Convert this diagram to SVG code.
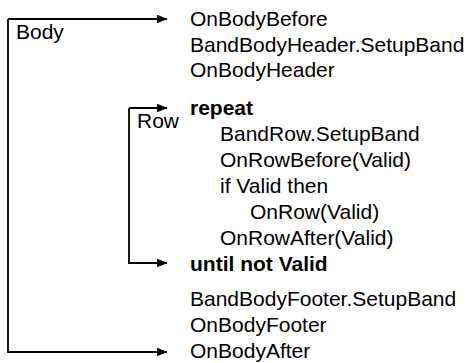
<svg xmlns="http://www.w3.org/2000/svg" width="471" height="363" viewBox="0 0 471 363">
<style>
text{font-family:"Liberation Sans",Arial,sans-serif;font-size:21px;fill:#000}
.b{font-weight:bold}
.c{fill:none;stroke:#000;stroke-width:1.8}
</style>
<defs>
<marker id="ah" markerWidth="11" markerHeight="9" refX="10.5" refY="4.5" orient="auto" markerUnits="userSpaceOnUse">
<path d="M0,0 L11,4.5 L0,9 Z" fill="#000"/>
</marker>
</defs>
<rect width="471" height="363" fill="#fff"/>
<g id="connectors">
<path class="c" d="M8,19 V352 H167" marker-end="url(#ah)"/>
<path class="c" d="M8,19 H167" marker-end="url(#ah)"/>
<path class="c" d="M129,108 V263 H167" marker-end="url(#ah)"/>
<path class="c" d="M129,108 H167" marker-end="url(#ah)"/>
</g>
<g id="body-label"><text x="16" y="39">Body</text></g>
<g id="row-label"><text x="137" y="128">Row</text></g>
<g id="code">
<text x="190" y="26">OnBodyBefore</text>
<text x="190" y="51.5">BandBodyHeader.SetupBand</text>
<text x="190" y="77">OnBodyHeader</text>
<text class="b" x="190" y="115">repeat</text>
<text x="220" y="141">BandRow.SetupBand</text>
<text x="220" y="167">OnRowBefore(Valid)</text>
<text x="220" y="193">if Valid then</text>
<text x="250" y="219">OnRow(Valid)</text>
<text x="220" y="245">OnRowAfter(Valid)</text>
<text class="b" x="190" y="271">until not Valid</text>
<text x="190" y="306">BandBodyFooter.SetupBand</text>
<text x="190" y="332">OnBodyFooter</text>
<text x="190" y="358">OnBodyAfter</text>
</g>
</svg>
